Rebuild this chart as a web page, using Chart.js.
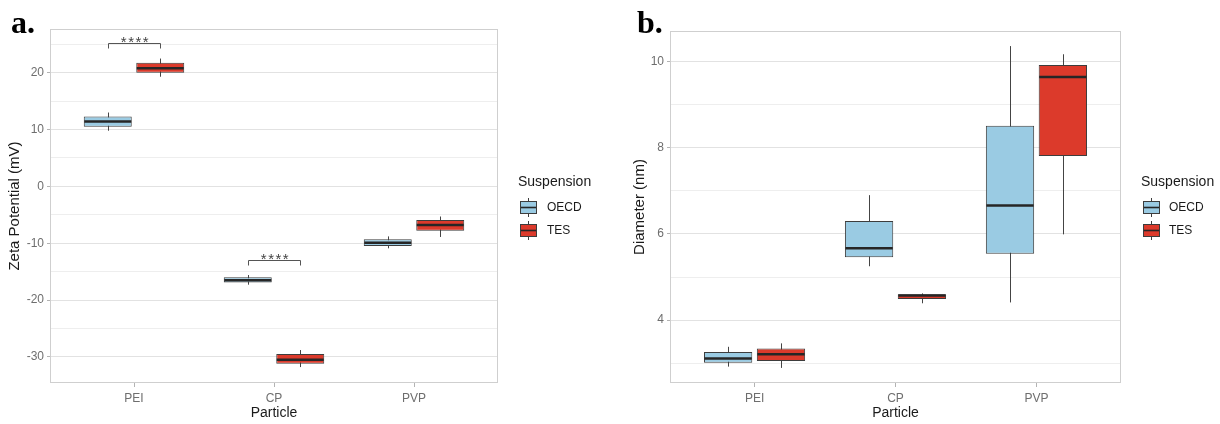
<!DOCTYPE html>
<html><head><meta charset="utf-8">
<script src="https://cdn.jsdelivr.net/npm/chart.js@4.4.1/dist/chart.umd.min.js"></script>
<style>
html,body{margin:0;padding:0;background:#fff;}
#wrap{position:relative;width:1220px;height:424px;overflow:hidden;background:#fff;}
.pane{position:absolute;top:0;width:610px;height:424px;}
.tag{position:absolute;font:bold 32px 'Liberation Serif','Times New Roman',serif;line-height:32px;color:#000;}
</style></head><body>
<div id="wrap">
<div class="pane" style="left:0"><canvas id="ca" width="610" height="424"></canvas></div>
<div class="pane" style="left:610px"><canvas id="cb" width="610" height="424"></canvas></div>
<div class="tag" style="left:11px;top:6px">a.</div>
<div class="tag" style="left:637px;top:6px">b.</div>
</div>
<script>
// ---------- shared ----------
const categories = ['PEI', 'CP', 'PVP'];
const seriesNames = ['OECD', 'TES'];
const seriesColors = ['#9ACBE3', '#DC3A2B'];
const legendTitle = 'Suspension';
const xTitle = 'Particle';

// ---------- panel a: Zeta Potential (mV) ----------
const zetaOECDMin = [9.8, -17.3, -10.9];
const zetaOECDQ1  = [10.5, -16.9, -10.5];
const zetaOECDMed = [11.4, -16.5, -9.9];
const zetaOECDQ3  = [12.3, -16.0, -9.3];
const zetaOECDMax = [13.0, -15.6, -8.8];

const zetaTESMin = [19.3, -31.8, -8.9];
const zetaTESQ1  = [20.0, -31.2, -7.8];
const zetaTESMed = [20.8, -30.5, -6.8];
const zetaTESQ3  = [21.75, -29.5, -5.9];
const zetaTESMax = [22.5, -28.8, -5.3];

const zetaTickLabels = [-30, -20, -10, 0, 10, 20];
const zetaGridValues = [-30, -25, -20, -15, -10, -5, 0, 5, 10, 15, 20, 25];
const zetaRange = [-34.6, 27.7];
const zetaTitle = 'Zeta Potential (mV)';
const zetaSigCategories = ['PEI', 'CP'];
const zetaSigLevels = [25.3, -13.0];
const zetaSigLabels = ['****', '****'];

// ---------- panel b: Diameter (nm) ----------
const diamOECDMin = [2.92, 5.25, 4.41];
const diamOECDQ1  = [3.01, 5.46, 5.54];
const diamOECDMed = [3.11, 5.67, 6.66];
const diamOECDQ3  = [3.26, 6.30, 8.51];
const diamOECDMax = [3.38, 6.90, 10.36];

const diamTESMin = [2.89, 4.39, 5.99];
const diamTESQ1  = [3.05, 4.49, 7.81];
const diamTESMed = [3.21, 4.57, 9.64];
const diamTESQ3  = [3.34, 4.60, 9.92];
const diamTESMax = [3.46, 4.62, 10.17];

const diamTickLabels = [4, 6, 8, 10];
const diamGridValues = [3, 4, 5, 6, 7, 8, 9, 10];
const diamRange = [2.54, 10.71];
const diamTitle = 'Diameter (nm)';

// ---------- drawing ----------
Chart.defaults.font.family = "'Liberation Sans', Arial, Helvetica, sans-serif";

const TICK_COLOR = '#6e6e6e';
const TEXT_COLOR = '#1a1a1a';

function extrasPlugin(stats, sig, leg) {
  return {
    id: 'boxExtras',
    beforeDatasetsDraw(chart) {
      const {ctx, chartArea: a, scales: {y}} = chart;
      ctx.save();
      ctx.strokeStyle = '#cfcfcf';
      ctx.lineWidth = 1;
      ctx.strokeRect(Math.round(a.left) + 0.5, Math.round(a.top) + 0.5,
        Math.round(a.right - a.left) - 1, Math.round(a.bottom - a.top) - 1);
      stats.forEach((s, di) => {
        chart.getDatasetMeta(di).data.forEach((el, j) => {
          const x = Math.round(el.x) + 0.5;
          ctx.strokeStyle = '#444';
          ctx.lineWidth = 1;
          ctx.beginPath();
          ctx.moveTo(x, y.getPixelForValue(s.max[j]));
          ctx.lineTo(x, y.getPixelForValue(s.min[j]));
          ctx.stroke();
        });
      });
      ctx.restore();
    },
    afterDatasetsDraw(chart) {
      const {ctx, scales: {y}} = chart;
      ctx.save();
      // medians
      stats.forEach((s, di) => {
        chart.getDatasetMeta(di).data.forEach((el, j) => {
          const py = y.getPixelForValue(s.med[j]);
          ctx.strokeStyle = '#262626';
          ctx.lineWidth = 2.5;
          ctx.beginPath();
          ctx.moveTo(el.x - el.width / 2 + 0.5, py);
          ctx.lineTo(el.x + el.width / 2 - 0.5, py);
          ctx.stroke();
        });
      });
      // significance brackets
      if (sig) {
        sig.cats.forEach((cat, k) => {
          const ci = categories.indexOf(cat);
          const x1 = Math.round(chart.getDatasetMeta(0).data[ci].x) + 0.5;
          const x2 = Math.round(chart.getDatasetMeta(1).data[ci].x) + 0.5;
          const yy = Math.round(y.getPixelForValue(sig.levels[k])) + 0.5;
          ctx.strokeStyle = '#555';
          ctx.lineWidth = 1;
          ctx.beginPath();
          ctx.moveTo(x1, yy + 5); ctx.lineTo(x1, yy); ctx.lineTo(x2, yy); ctx.lineTo(x2, yy + 5);
          ctx.stroke();
          ctx.fillStyle = '#444';
          ctx.font = "15px 'Liberation Sans', Arial, sans-serif";
          ctx.letterSpacing = '1.5px';
          ctx.textAlign = 'center';
          ctx.textBaseline = 'alphabetic';
          ctx.fillText(sig.labels[k], (x1 + x2) / 2 + 1, yy + 3);
          ctx.letterSpacing = '0px';
        });
      }
      ctx.restore();
    },
    afterDraw(chart) {
      const {ctx} = chart;
      ctx.save();
      ctx.fillStyle = TEXT_COLOR;
      ctx.font = "14px 'Liberation Sans', Arial, sans-serif";
      ctx.textAlign = 'left';
      ctx.textBaseline = 'alphabetic';
      ctx.fillText(legendTitle, leg.titleX, 186);
      seriesNames.forEach((name, i) => {
        const cy = 207 + i * 23;
        const kx = leg.keyX;
        ctx.fillStyle = seriesColors[i];
        ctx.fillRect(kx, cy - 6, 17, 12);
        ctx.strokeStyle = '#3d3d3d';
        ctx.lineWidth = 1;
        ctx.strokeRect(kx + 0.5, cy - 6 + 0.5, 16, 12);
        ctx.beginPath();
        ctx.moveTo(kx + 8.5, cy - 9); ctx.lineTo(kx + 8.5, cy - 5.5);
        ctx.moveTo(kx + 8.5, cy + 6.5); ctx.lineTo(kx + 8.5, cy + 10);
        ctx.stroke();
        ctx.strokeStyle = '#262626';
        ctx.lineWidth = 1.6;
        ctx.beginPath();
        ctx.moveTo(kx + 1, cy + 0.5); ctx.lineTo(kx + 16, cy + 0.5);
        ctx.stroke();
        ctx.fillStyle = TEXT_COLOR;
        ctx.font = "12px 'Liberation Sans', Arial, sans-serif";
        ctx.textBaseline = 'middle';
        ctx.fillText(name, leg.textX, cy + 0.5);
        ctx.textBaseline = 'alphabetic';
      });
      ctx.restore();
    }
  };
}

function makeChart(id, cfg) {
  const datasets = cfg.series.map((s, i) => ({
    label: seriesNames[i],
    data: categories.map((c, j) => ({x: j + 1, y: [s.q1[j], s.q3[j]]})),
    backgroundColor: seriesColors[i],
    borderColor: '#3d3d3d',
    borderWidth: 1,
    borderSkipped: false,
    categoryPercentage: 0.75,
    barPercentage: 0.914
  }));
  return new Chart(document.getElementById(id), {
    type: 'bar',
    data: {datasets},
    options: {
      responsive: false,
      devicePixelRatio: 1,
      animation: false,
      events: [],
      layout: {padding: cfg.padding},
      plugins: {legend: {display: false}, tooltip: {enabled: false}},
      scales: {
        x: {
          type: 'linear', min: 0.4, max: 3.6, offset: false,
          afterBuildTicks: s => { s.ticks = categories.map((c, i) => ({value: i + 1})); },
          afterFit: s => { s.height = 41; },
          ticks: {
            callback: v => categories[Math.round(v) - 1] ?? '',
            color: TICK_COLOR, font: {size: 12}, padding: 4, autoSkip: false, maxRotation: 0
          },
          grid: {drawOnChartArea: false, drawTicks: true, tickLength: 4, tickColor: '#b3b3b3', offset: false},
          border: {display: false},
          title: {display: true, text: xTitle, color: TEXT_COLOR, font: {size: 14}, padding: {top: 0, bottom: 2}}
        },
        y: {
          type: 'linear', min: cfg.range[0], max: cfg.range[1],
          afterBuildTicks: s => { s.ticks = cfg.grid.map(v => ({value: v})); },
          afterFit: s => { s.width = cfg.yWidth; },
          ticks: {
            callback: v => cfg.labels.includes(v) ? String(v) : '',
            color: TICK_COLOR, font: {size: 12}, padding: 3, autoSkip: false
          },
          grid: {
            color: c => (c.tick && cfg.labels.includes(c.tick.value)) ? '#e2e2e2' : '#eeeeee',
            lineWidth: 1, drawTicks: true, tickLength: 3,
            tickColor: c => (c.tick && cfg.labels.includes(c.tick.value)) ? '#b3b3b3' : 'rgba(0,0,0,0)'
          },
          border: {display: false},
          title: {display: true, text: cfg.title, color: TEXT_COLOR, font: {size: 15}, padding: {top: cfg.titlePad, bottom: 0}}
        }
      }
    },
    plugins: [extrasPlugin(cfg.series, cfg.sig, cfg.legend)]
  });
}

makeChart('ca', {
  series: [
    {min: zetaOECDMin, q1: zetaOECDQ1, med: zetaOECDMed, q3: zetaOECDQ3, max: zetaOECDMax},
    {min: zetaTESMin, q1: zetaTESQ1, med: zetaTESMed, q3: zetaTESQ3, max: zetaTESMax}
  ],
  range: zetaRange, grid: zetaGridValues, labels: zetaTickLabels, title: zetaTitle,
  padding: {left: 0, top: 29, right: 112, bottom: 0}, yWidth: 50, titlePad: 6,
  sig: {cats: zetaSigCategories, levels: zetaSigLevels, labels: zetaSigLabels},
  legend: {titleX: 518, keyX: 520, textX: 547}
});

makeChart('cb', {
  series: [
    {min: diamOECDMin, q1: diamOECDQ1, med: diamOECDMed, q3: diamOECDQ3, max: diamOECDMax},
    {min: diamTESMin, q1: diamTESQ1, med: diamTESMed, q3: diamTESQ3, max: diamTESMax}
  ],
  range: diamRange, grid: diamGridValues, labels: diamTickLabels, title: diamTitle,
  padding: {left: 20, top: 31, right: 99, bottom: 0}, yWidth: 40, titlePad: 1,
  sig: null,
  legend: {titleX: 531, keyX: 533, textX: 559}
});
</script>
</body></html>
